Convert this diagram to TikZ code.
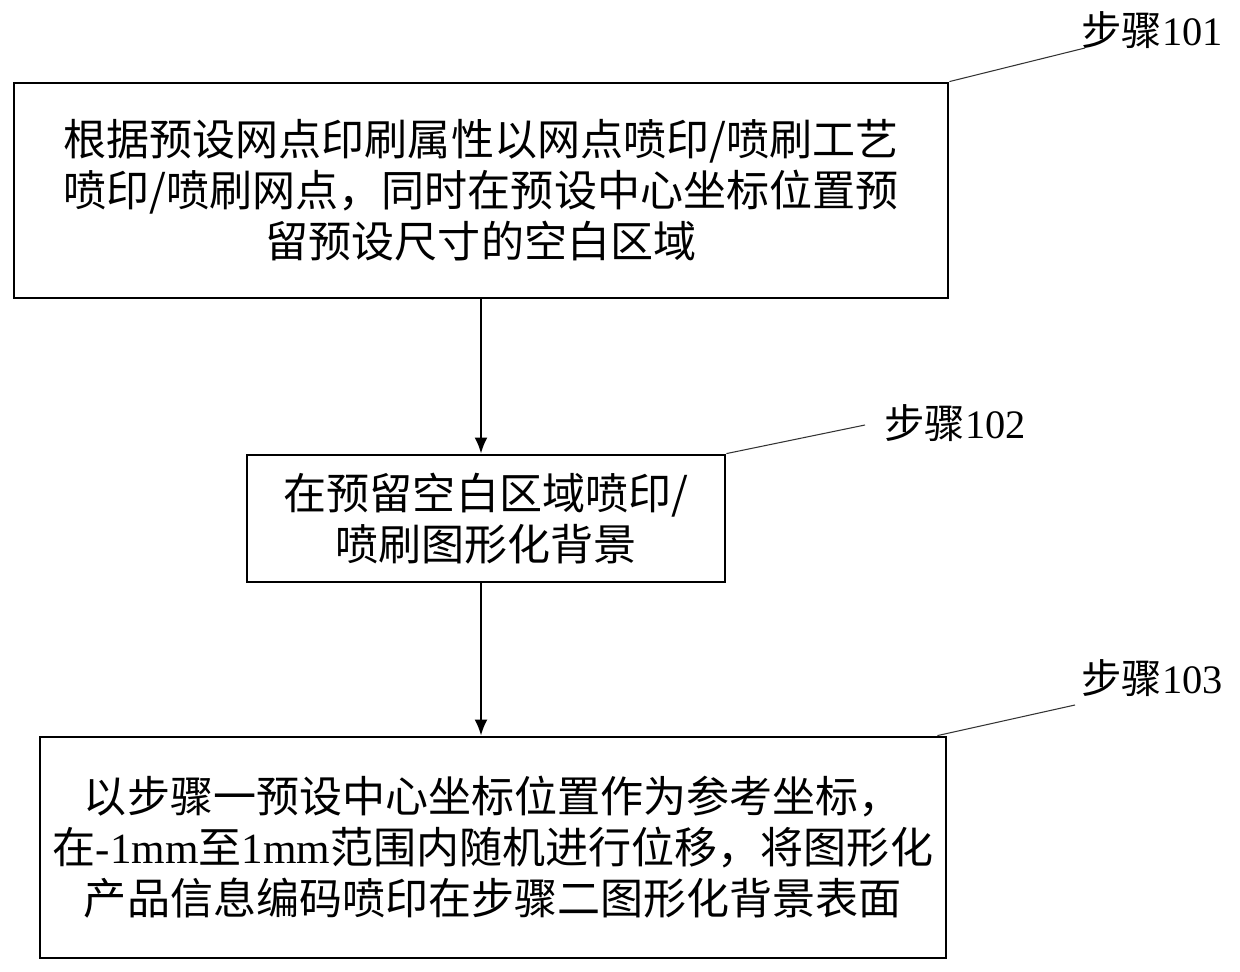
\documentclass[tikz,border=0pt]{standalone}
\usepackage{fontspec}
\newfontfamily\cjk{Noto Sans CJK SC}
\newfontfamily\labfont{Liberation Serif}
\usetikzlibrary{arrows.meta,positioning}

\begin{document}
\begin{tikzpicture}[stepbox/.style={draw,line width=1.6pt,align=center,inner sep=0pt,font=\cjk\fontsize{24.5}{29}\selectfont},
    steplabel/.style={font=\cjk\fontsize{23}{26}\selectfont},
    flow/.style={-{Latex[length=3.2mm,width=2.6mm]},line width=1.2pt},
    leader/.style={line width=0.6pt,draw=black!80}]
    \useasboundingbox (0,0) rectangle (24.8,-19.44);

    \node[stepbox,minimum width=18.68cm,minimum height=4.3cm] (box1) at (9.62,-3.81) {根据预设网点印刷属性以网点喷印/喷刷工艺\\喷印/喷刷网点，同时在预设中心坐标位置预\\留预设尺寸的空白区域};
    \node[stepbox,minimum width=9.56cm,minimum height=2.54cm] (box2) at (9.72,-10.37) {在预留空白区域喷印/\\喷刷图形化背景};
    \node[stepbox,minimum width=18.12cm,minimum height=4.42cm] (box3) at (9.86,-16.95) {以步骤一预设中心坐标位置作为参考坐标，\\在{\labfont -1mm}至{\labfont 1mm}范围内随机进行位移，将图形化\\产品信息编码喷印在步骤二图形化背景表面};

    \foreach \from/\to in {box1/box2,box2/box3}
    \draw[flow] (\from.south -| 9.62,0) -- (\to.north -| 9.62,0);

    % step labels
    \node[steplabel] (lab1) at (23.04,-0.6) {步骤{\labfont 101}};
    \node[steplabel] (lab2) at (19.1,-8.46) {步骤{\labfont 102}};
    \node[steplabel] (lab3) at (23.04,-13.56) {步骤{\labfont 103}};

    \coordinate (end1) at (21.7,-0.96);
    \coordinate (end2) at (17.3,-8.5);
    \coordinate (end3) at (21.5,-14.1);

    \draw[leader] (box1.north east) -- (end1);
    \draw[leader] (box2.north east) -- (end2);
    \draw[leader] ([xshift=-0.2cm]box3.north east) -- (end3);
\end{tikzpicture}
\end{document}
